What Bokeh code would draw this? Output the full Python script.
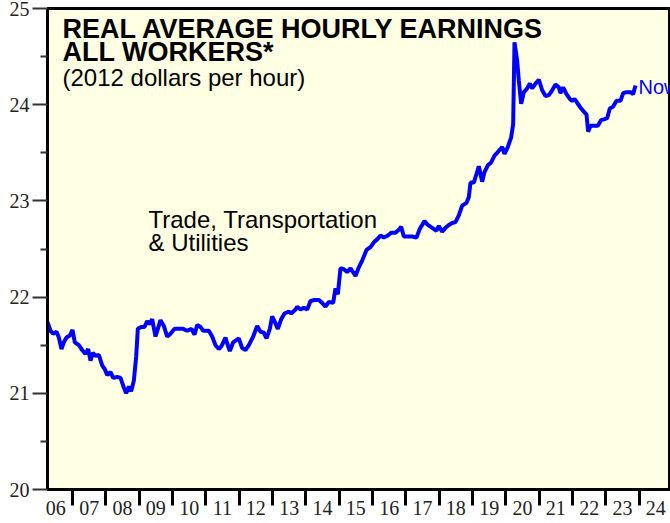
from bokeh.plotting import figure
from bokeh.models import FixedTicker, Range1d, Label
from bokeh.embed import file_html
from bokeh.resources import INLINE

# Decimal-year positions and real average hourly earnings (2012 $/hour)
years = [2006.25, 2006.34, 2006.42, 2006.52, 2006.59, 2006.67, 2006.74, 2006.82, 2006.92, 2007.00,
         2007.07, 2007.19, 2007.29, 2007.39, 2007.47, 2007.54, 2007.61, 2007.69, 2007.79, 2007.89,
         2007.97, 2008.04, 2008.14, 2008.22, 2008.34, 2008.44, 2008.54, 2008.61, 2008.69, 2008.76,
         2008.84, 2008.91, 2008.96, 2009.06, 2009.16, 2009.24, 2009.31, 2009.39, 2009.49, 2009.56,
         2009.64, 2009.74, 2009.84, 2009.94, 2010.06, 2010.19, 2010.32, 2010.44, 2010.57, 2010.66,
         2010.74, 2010.84, 2010.92, 2011.09, 2011.19, 2011.29, 2011.39, 2011.47, 2011.59, 2011.64,
         2011.72, 2011.82, 2011.99, 2012.09, 2012.19, 2012.29, 2012.42, 2012.54, 2012.64, 2012.74,
         2012.82, 2012.92, 2012.99, 2013.06, 2013.16, 2013.26, 2013.36, 2013.49, 2013.56, 2013.69,
         2013.74, 2013.84, 2013.94, 2014.04, 2014.14, 2014.26, 2014.39, 2014.49, 2014.59, 2014.69,
         2014.82, 2014.89, 2014.96, 2015.04, 2015.14, 2015.24, 2015.34, 2015.49, 2015.59, 2015.69,
         2015.82, 2015.94, 2016.04, 2016.14, 2016.24, 2016.34, 2016.46, 2016.56, 2016.69, 2016.79,
         2016.86, 2016.94, 2017.06, 2017.19, 2017.32, 2017.42, 2017.56, 2017.66, 2017.79, 2017.92,
         2017.99, 2018.09, 2018.19, 2018.29, 2018.39, 2018.49, 2018.59, 2018.69, 2018.82, 2018.89,
         2018.94, 2019.04, 2019.12, 2019.19, 2019.29, 2019.36, 2019.46, 2019.56, 2019.66, 2019.74,
         2019.89, 2019.96, 2020.06, 2020.16, 2020.22, 2020.26, 2020.34, 2020.39, 2020.46, 2020.54,
         2020.64, 2020.72, 2020.79, 2020.89, 2020.99, 2021.09, 2021.19, 2021.29, 2021.39, 2021.49,
         2021.59, 2021.64, 2021.72, 2021.82, 2021.92, 2021.99, 2022.06, 2022.16, 2022.26, 2022.36,
         2022.42, 2022.47, 2022.54, 2022.64, 2022.76, 2022.86, 2022.96, 2023.04, 2023.12, 2023.22,
         2023.32, 2023.44, 2023.52, 2023.62, 2023.74, 2023.82, 2023.89]
earnings = [21.74, 21.65, 21.62, 21.64, 21.58, 21.46, 21.53, 21.58, 21.60, 21.66,
            21.53, 21.50, 21.45, 21.41, 21.46, 21.34, 21.42, 21.39, 21.40, 21.29,
            21.25, 21.19, 21.22, 21.16, 21.17, 21.16, 21.06, 21.00, 21.07, 21.02,
            21.13, 21.38, 21.67, 21.69, 21.69, 21.75, 21.72, 21.77, 21.59, 21.67,
            21.76, 21.70, 21.59, 21.62, 21.67, 21.67, 21.67, 21.65, 21.67, 21.61,
            21.71, 21.69, 21.65, 21.65, 21.59, 21.50, 21.46, 21.49, 21.58, 21.52,
            21.44, 21.53, 21.57, 21.47, 21.45, 21.50, 21.59, 21.70, 21.64, 21.63,
            21.57, 21.67, 21.80, 21.75, 21.67, 21.77, 21.83, 21.85, 21.83, 21.87,
            21.90, 21.87, 21.89, 21.87, 21.96, 21.97, 21.97, 21.94, 21.90, 21.95,
            21.94, 22.09, 22.03, 22.30, 22.29, 22.26, 22.30, 22.22, 22.31, 22.38,
            22.49, 22.52, 22.57, 22.60, 22.64, 22.62, 22.64, 22.67, 22.67, 22.70,
            22.73, 22.63, 22.63, 22.63, 22.62, 22.71, 22.79, 22.75, 22.72, 22.69,
            22.74, 22.68, 22.72, 22.75, 22.77, 22.78, 22.85, 22.95, 22.98, 23.04,
            23.19, 23.19, 23.28, 23.36, 23.20, 23.30, 23.37, 23.40, 23.47, 23.50,
            23.56, 23.49, 23.56, 23.66, 23.80, 24.65, 24.46, 24.25, 24.01, 24.13,
            24.17, 24.22, 24.17, 24.22, 24.26, 24.15, 24.09, 24.10, 24.15, 24.21,
            24.18, 24.12, 24.18, 24.11, 24.06, 24.04, 24.06, 24.01, 23.96, 23.92,
            23.90, 23.72, 23.78, 23.78, 23.78, 23.84, 23.85, 23.86, 23.96, 23.98,
            24.04, 24.04, 24.12, 24.13, 24.13, 24.11, 24.20]

year_labels = ["06", "07", "08", "09", "10", "11", "12", "13", "14", "15",
               "16", "17", "18", "19", "20", "21", "22", "23", "24"]
first_year = 2006
y_ticks = [20, 21, 22, 23, 24, 25]

title_lines = ["REAL AVERAGE HOURLY EARNINGS", "ALL WORKERS*"]
subtitle = "(2012 dollars per hour)"
series_lines = ["Trade, Transportation", "& Utilities"]
end_label = "Now"

p = figure(width=670, height=523, output_backend="svg", toolbar_location=None,
           x_range=Range1d(2006.25, 2024.94), y_range=Range1d(20, 25),
           min_border_left=47, min_border_right=0, min_border_top=8, min_border_bottom=34,
           background_fill_color="#FFFFE3", border_fill_color="white")
p.grid.visible = False
p.outline_line_color = "black"
p.outline_line_width = 3

# x axis: labels centred on each year, ticks at the year boundaries
mids = [first_year + i + 0.5 for i in range(len(year_labels))]
bounds = [first_year + i + 1 for i in range(len(year_labels))]
p.xaxis.ticker = FixedTicker(ticks=mids, minor_ticks=bounds)
p.xaxis.major_label_overrides = {m: lab for m, lab in zip(mids, year_labels)}
p.xaxis.major_tick_out = 0
p.xaxis.major_tick_in = 0
p.xaxis.minor_tick_out = 16
p.xaxis.minor_tick_in = 0
p.xaxis.minor_tick_line_width = 3
p.xaxis.minor_tick_line_color = "black"
p.xaxis.axis_line_width = 3
p.xaxis.axis_line_color = "black"
p.xaxis.major_label_standoff = -5
p.xaxis.major_label_text_font = "Liberation Serif"
p.xaxis.major_label_text_font_size = "20px"
p.xaxis.major_label_text_color = "#222222"

# y axis
p.yaxis.ticker = FixedTicker(ticks=y_ticks, minor_ticks=[v + 0.5 for v in y_ticks[:-1]])
p.yaxis.major_tick_out = 15
p.yaxis.major_tick_in = 0
p.yaxis.minor_tick_out = 7
p.yaxis.minor_tick_in = 0
p.yaxis.major_tick_line_width = 2
p.yaxis.minor_tick_line_width = 2
p.yaxis.major_tick_line_color = "#333333"
p.yaxis.minor_tick_line_color = "#333333"
p.yaxis.axis_line_width = 3
p.yaxis.axis_line_color = "black"
p.yaxis.major_label_standoff = 3
p.yaxis.major_label_text_font = "Liberation Serif"
p.yaxis.major_label_text_font_size = "20px"
p.yaxis.major_label_text_color = "#222222"

p.line(years, earnings, line_color="#0000FF", line_width=4)

for i, t in enumerate(title_lines):
    p.add_layout(Label(x=2006.70, y=24.785 - i * 0.236, text=t, text_font="Liberation Sans",
                       text_font_style="bold", text_font_size="27px", text_color="black",
                       text_baseline="alphabetic"))
p.add_layout(Label(x=2006.70, y=24.28, text=subtitle, text_font="Liberation Sans",
                   text_font_size="24px", text_color="black", text_baseline="alphabetic"))
for i, t in enumerate(series_lines):
    p.add_layout(Label(x=2009.28, y=22.805 - i * 0.24, text=t, text_font="Liberation Sans",
                       text_font_size="24px", text_color="black", text_baseline="alphabetic"))
p.add_layout(Label(x=2023.98, y=24.184, text=end_label, text_font="Liberation Sans",
                   text_font_size="20px", text_color="#0000FF", text_baseline="middle"))

open("out.html", "w").write(file_html(p, INLINE))
